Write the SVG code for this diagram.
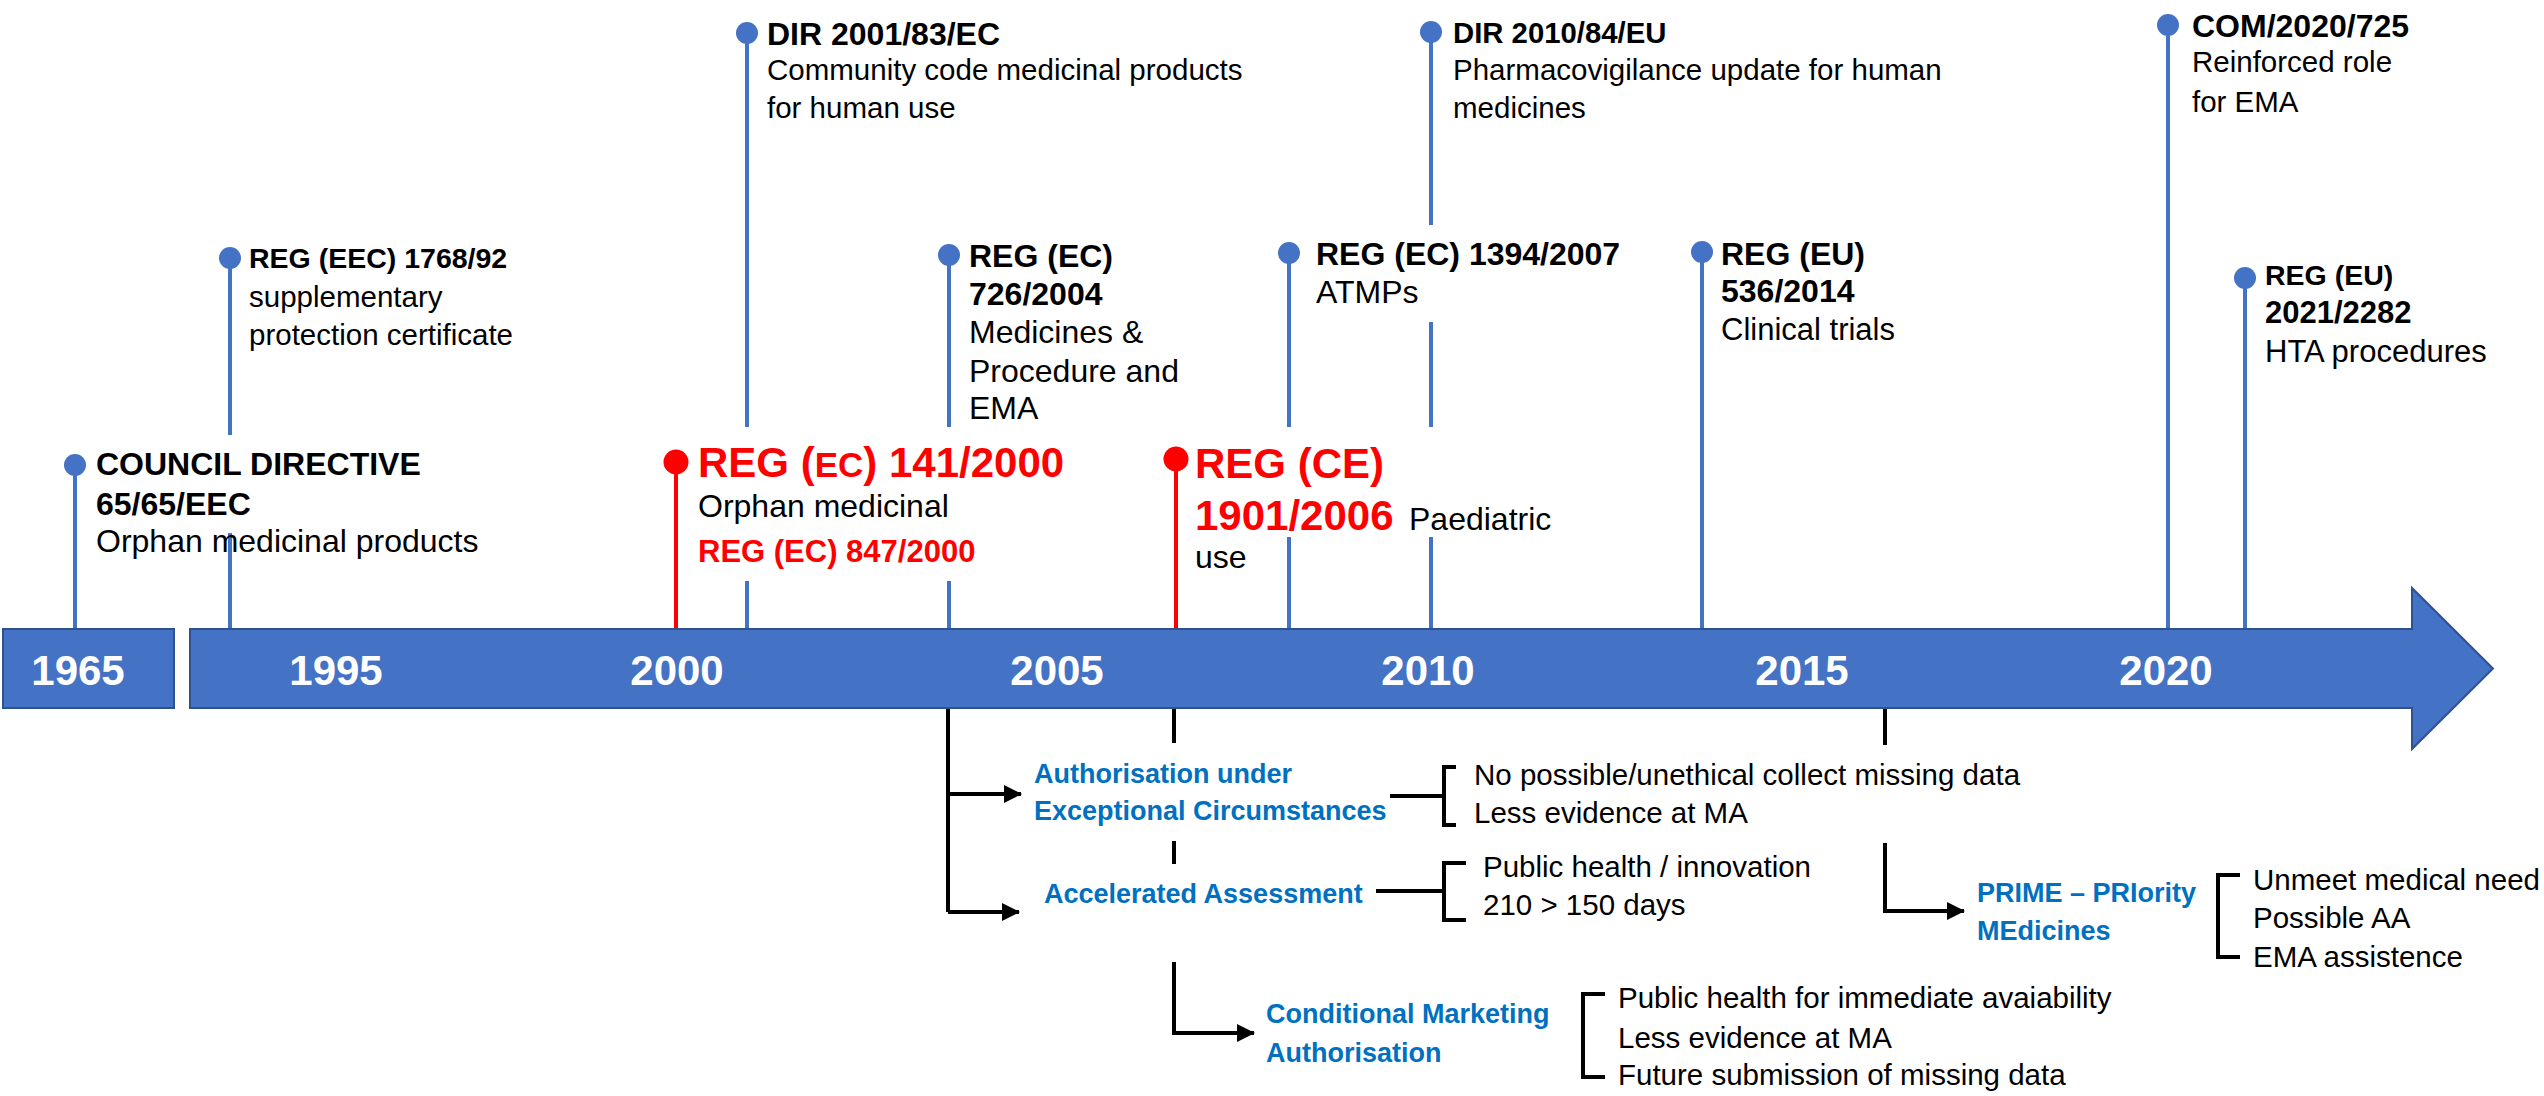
<svg xmlns="http://www.w3.org/2000/svg" width="2544" height="1096" viewBox="0 0 2544 1096">
<style>
text{font-family:"Liberation Sans",Arial,sans-serif;fill:#000}
.ab{font-weight:700;font-size:32px}
.ar{font-size:32px}
.cb{font-weight:700;font-size:28.5px}
.cr{font-size:29.5px}
.yr{font-weight:700;font-size:42px;fill:#fff;text-anchor:middle}
.red{fill:#ff0000;font-weight:700;font-size:42px}
.bl{fill:#0070C0;font-weight:700;font-size:27px}
.stem{stroke:#4472C4;stroke-width:4;fill:none}
.rstem{stroke:#ff0000;stroke-width:4;fill:none}
.blk{stroke:#000;stroke-width:4;fill:none}
.dot{fill:#4472C4}
.rdot{fill:#ff0000}
.bg{fill:#fff}
</style>
<defs>
<marker id="ah" markerUnits="userSpaceOnUse" markerWidth="18" markerHeight="18" refX="17" refY="9" orient="auto">
<path d="M0,0 L18,9 L0,18 Z" fill="#000"/>
</marker>
</defs>
<rect width="2544" height="1096" fill="#fff"/>

<g id="connectors">
<line class="stem" x1="75" y1="465" x2="75" y2="630"/>
<line class="stem" x1="230" y1="258" x2="230" y2="630"/>
<line class="rstem" x1="676" y1="462" x2="676" y2="630"/>
<line class="stem" x1="747" y1="33" x2="747" y2="630"/>
<line class="stem" x1="949" y1="255" x2="949" y2="630"/>
<line class="rstem" x1="1176" y1="459" x2="1176" y2="630"/>
<line class="stem" x1="1289" y1="253" x2="1289" y2="630"/>
<line class="stem" x1="1431" y1="32" x2="1431" y2="630"/>
<line class="stem" x1="1702" y1="252" x2="1702" y2="630"/>
<line class="stem" x1="2168" y1="25" x2="2168" y2="630"/>
<line class="stem" x1="2245" y1="278" x2="2245" y2="630"/>
<path class="blk" d="M948,707 V912"/>
<path class="blk" d="M948,794 H1021" marker-end="url(#ah)"/>
<path class="blk" d="M948,912 H1019" marker-end="url(#ah)"/>
<path class="blk" d="M1174,707 V1033 H1254" marker-end="url(#ah)"/>
<path class="blk" d="M1885,707 V911 H1964" marker-end="url(#ah)"/>
<path class="blk" d="M1376,796 H1444"/>
<path class="blk" d="M1456,767 H1444 V825 H1456"/>
<path class="blk" d="M1376,891 H1444"/>
<path class="blk" d="M1466,863 H1444 V920 H1466"/>
<path class="blk" d="M1605,994 H1583 V1077 H1605"/>
<path class="blk" d="M2240,875 H2218 V957 H2240"/>
</g>

<g id="timeline">
<rect x="3" y="629" width="171" height="79" fill="#4472C4" stroke="#2F528F" stroke-width="2"/>
<path d="M190,629 H2412 V588 L2493,668.5 L2412,749 V708 H190 Z" fill="#4472C4" stroke="#2F528F" stroke-width="2"/>
<text class="yr" x="78" y="685">1965</text>
<text class="yr" x="336" y="685">1995</text>
<text class="yr" x="677" y="685">2000</text>
<text class="yr" x="1057" y="685">2005</text>
<text class="yr" x="1428" y="685">2010</text>
<text class="yr" x="1802" y="685">2015</text>
<text class="yr" x="2166" y="685">2020</text>
</g>

<g id="n-council-directive">
<rect class="bg" x="88" y="435" width="400" height="98"/>
<circle class="dot" cx="75" cy="465" r="11"/>
<text class="ab" x="96" y="475">COUNCIL DIRECTIVE</text>
<text class="ab" x="96" y="515">65/65/EEC</text>
<text class="ar" x="96" y="552">Orphan medicinal products</text>
</g>

<g id="n-reg-1768-92">
<circle class="dot" cx="230" cy="258" r="11"/>
<text class="cb" x="249" y="268">REG (EEC) 1768/92</text>
<text class="cr" x="249" y="307">supplementary</text>
<text class="cr" x="249" y="345">protection certificate</text>
</g>

<g id="n-reg-141-2000">
<rect class="bg" x="690" y="427" width="380" height="154"/>
<circle class="rdot" cx="676" cy="462" r="12.5"/>
<text class="red" x="698" y="477">REG (<tspan font-size="35">EC</tspan>) 141/2000</text>
<text class="ar" x="698" y="517">Orphan medicinal</text>
<text class="red" x="698" y="562" style="font-size:31px">REG (EC) 847/2000</text>
</g>

<g id="n-dir-2001-83">
<circle class="dot" cx="747" cy="33" r="11"/>
<text class="ab" x="767" y="45">DIR 2001/83/EC</text>
<text class="cr" x="767" y="80">Community code medicinal products</text>
<text class="cr" x="767" y="118">for human use</text>
</g>

<g id="n-reg-726-2004">
<circle class="dot" cx="949" cy="255" r="11"/>
<text class="ab" x="969" y="267">REG (EC)</text>
<text class="ab" x="969" y="305">726/2004</text>
<text class="ar" x="969" y="343">Medicines &amp;</text>
<text class="ar" x="969" y="382">Procedure and</text>
<text class="ar" x="969" y="419">EMA</text>
</g>

<g id="n-reg-1901-2006">
<rect class="bg" x="1188" y="427" width="362" height="110"/>
<circle class="rdot" cx="1176" cy="459" r="12.5"/>
<text class="red" x="1195" y="478">REG (CE)</text>
<text x="1195" y="530"><tspan class="red">1901/2006</tspan><tspan class="ar" x="1409">Paediatric</tspan></text>
<text class="ar" x="1195" y="568">use</text>
</g>

<g id="n-reg-1394-2007">
<rect class="bg" x="1305" y="225" width="320" height="97"/>
<circle class="dot" cx="1289" cy="253" r="11"/>
<text class="ab" x="1316" y="265">REG (EC) 1394/2007</text>
<text class="ar" x="1316" y="303">ATMPs</text>
</g>

<g id="n-dir-2010-84">
<circle class="dot" cx="1431" cy="32" r="11"/>
<text class="cb" x="1453" y="43" style="font-size:29.3px">DIR 2010/84/EU</text>
<text class="cr" x="1453" y="80">Pharmacovigilance update for human</text>
<text class="cr" x="1453" y="118">medicines</text>
</g>

<g id="n-reg-536-2014">
<circle class="dot" cx="1702" cy="252" r="11"/>
<text class="ab" x="1721" y="265">REG (EU)</text>
<text class="ab" x="1721" y="302">536/2014</text>
<text class="ar" x="1721" y="340" style="font-size:31px">Clinical trials</text>
</g>

<g id="n-com-2020-725">
<circle class="dot" cx="2168" cy="25" r="11"/>
<text class="ab" x="2192" y="37">COM/2020/725</text>
<text class="cr" x="2192" y="72">Reinforced role</text>
<text class="cr" x="2192" y="112">for EMA</text>
</g>

<g id="n-reg-2021-2282">
<circle class="dot" cx="2245" cy="278" r="11"/>
<text class="cb" x="2265" y="285" style="font-size:28.5px">REG (EU)</text>
<text class="cb" x="2265" y="323" style="font-size:31px">2021/2282</text>
<text class="ar" x="2265" y="362" style="font-size:31px">HTA procedures</text>
</g>

<g id="n-exceptional">
<rect class="bg" x="1030" y="743" width="360" height="98"/>
<text class="bl" x="1034" y="783">Authorisation under</text>
<text class="bl" x="1034" y="820">Exceptional Circumstances</text>
</g>

<g id="n-exceptional-notes">
<rect class="bg" x="1470" y="745" width="560" height="98"/>
<text class="cr" x="1474" y="785">No possible/unethical collect missing data</text>
<text class="cr" x="1474" y="823">Less evidence at MA</text>
</g>

<g id="n-accelerated">
<rect class="bg" x="1040" y="864" width="325" height="98"/>
<text class="bl" x="1044" y="903">Accelerated Assessment</text>
</g>

<g id="n-accelerated-notes">
<text class="cr" x="1483" y="877">Public health / innovation</text>
<text class="cr" x="1483" y="915">210 &gt; 150 days</text>
</g>

<g id="n-conditional">
<text class="bl" x="1266" y="1023">Conditional Marketing</text>
<text class="bl" x="1266" y="1062">Authorisation</text>
</g>

<g id="n-conditional-notes">
<text class="cr" x="1618" y="1008">Public health for immediate avaiability</text>
<text class="cr" x="1618" y="1048">Less evidence at MA</text>
<text class="cr" x="1618" y="1085">Future submission of missing data</text>
</g>

<g id="n-prime">
<text class="bl" x="1977" y="902">PRIME – PRIority</text>
<text class="bl" x="1977" y="940">MEdicines</text>
</g>

<g id="n-prime-notes">
<text class="cr" x="2253" y="890">Unmeet medical need</text>
<text class="cr" x="2253" y="928">Possible AA</text>
<text class="cr" x="2253" y="967">EMA assistence</text>
</g>
</svg>
